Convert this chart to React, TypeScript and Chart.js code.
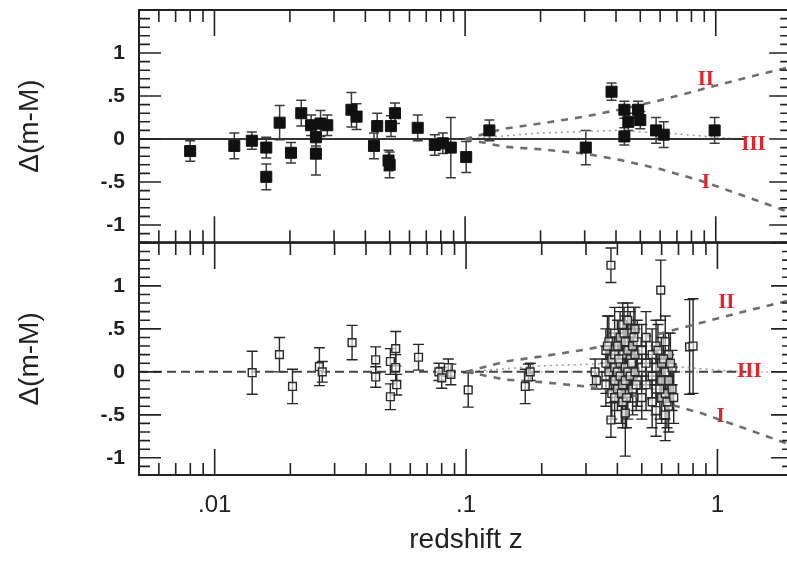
import React, { useEffect, useRef } from 'react';
import { Chart, registerables } from 'chart.js';
Chart.register(...registerables);

// ---- axis ranges / ticks ----
const xMin = 0.005;
const xMax = 2;
const yMin = -1.2;
const yMax = 1.5;
const xTickValues = [0.01, 0.1, 1];
const xTickLabels = ['.01', '.1', '1'];
const yTickValues = [-1, -0.5, 0, 0.5, 1];
const yTickLabels = ['-1', '-.5', '0', '.5', '1'];

// ---- top panel: filled squares ----
const topZ = [0.008, 0.012, 0.0141, 0.0161, 0.0161, 0.0182, 0.0202, 0.0222, 0.0243, 0.0254, 0.0254, 0.0265, 0.0282,
  0.0352, 0.0369, 0.0433, 0.0446, 0.0495, 0.05, 0.0506, 0.0525, 0.0647, 0.0757, 0.0815, 0.0877, 0.101, 0.125,
  0.303, 0.384, 0.432, 0.432, 0.448, 0.49, 0.5, 0.578, 0.62, 0.99];
const topDM = [-0.14, -0.08, -0.02, -0.1, -0.44, 0.19, -0.16, 0.3, 0.16, 0.02, -0.17, 0.18, 0.16,
  0.34, 0.26, -0.08, 0.15, -0.25, -0.3, 0.15, 0.3, 0.13, -0.07, -0.05, -0.1, -0.21, 0.1,
  -0.1, 0.55, 0.34, 0.03, 0.2, 0.34, 0.22, 0.1, 0.05, 0.1];
const topErr = [0.12, 0.15, 0.1, 0.12, 0.15, 0.2, 0.12, 0.15, 0.12, 0.1, 0.25, 0.15, 0.12,
  0.2, 0.15, 0.15, 0.15, 0.12, 0.15, 0.12, 0.12, 0.15, 0.12, 0.12, 0.35, 0.18, 0.12,
  0.2, 0.1, 0.1, 0.1, 0.1, 0.1, 0.1, 0.15, 0.15, 0.15];

// ---- bottom panel: open squares ----
const botZ = [0.0141, 0.0181, 0.0204, 0.0261, 0.0268, 0.0352, 0.0437, 0.0437, 0.05, 0.05, 0.0525, 0.0525, 0.053,
  0.0647, 0.078, 0.08, 0.085, 0.087, 0.102, 0.172, 0.177, 0.18, 0.326, 0.33,
  0.36, 0.36, 0.36, 0.36, 0.37, 0.37, 0.377, 0.38, 0.38, 0.377,
  0.39, 0.39, 0.39, 0.39, 0.39, 0.4, 0.4, 0.4, 0.41, 0.41, 0.41,
  0.42, 0.42, 0.42, 0.42, 0.43, 0.43, 0.43, 0.43, 0.44, 0.44, 0.44, 0.44,
  0.45, 0.45, 0.45, 0.46, 0.46, 0.46, 0.47, 0.47, 0.47, 0.48, 0.48,
  0.5, 0.5, 0.5, 0.52, 0.52, 0.52, 0.55, 0.55, 0.55, 0.57, 0.57, 0.57, 0.57, 0.595,
  0.6, 0.6, 0.6, 0.62, 0.62, 0.62, 0.62, 0.64, 0.64, 0.64, 0.66, 0.66, 0.775, 0.8,
  0.365, 0.405, 0.415, 0.425, 0.435, 0.455, 0.465, 0.475, 0.58, 0.59, 0.61, 0.63, 0.65, 0.67];
const botDM = [-0.01, 0.2, -0.17, 0.06, 0.0, 0.34, 0.14, -0.06, 0.12, -0.29, 0.27, 0.05, -0.15,
  0.17, 0.0, -0.07, 0.05, -0.03, -0.21, -0.17, -0.06, 0.0, 0.0, -0.1,
  0.25, 0.1, -0.05, -0.15, 0.35, 0.0, 1.24, 0.15, -0.25, -0.56,
  0.45, 0.2, 0.05, -0.1, -0.3, 0.3, 0.0, -0.2, 0.1, 0.4, -0.05,
  0.55, 0.2, -0.15, -0.35, 0.35, 0.05, -0.1, -0.48, 0.6, 0.25, 0.0, -0.25,
  0.45, 0.15, -0.05, 0.3, 0.1, -0.2, 0.5, 0.2, 0.0, 0.35, -0.1,
  0.25, 0.05, -0.3, 0.4, 0.1, -0.15, 0.2, -0.05, -0.35, 0.3, 0.05, -0.2, -0.45, 0.95,
  0.1, -0.1, -0.3, 0.35, 0.0, -0.25, -0.5, 0.2, -0.1, -0.4, 0.05, -0.2, 0.29, 0.3,
  0.3, 0.15, -0.25, 0.45, -0.3, 0.1, 0.4, -0.15, 0.25, -0.2, 0.15, -0.35, 0.1, -0.3];
const botErr = [0.25, 0.2, 0.2, 0.22, 0.12, 0.2, 0.15, 0.12, 0.15, 0.15, 0.2, 0.15, 0.12,
  0.15, 0.1, 0.12, 0.1, 0.12, 0.2, 0.2, 0.15, 0.1, 0.15, 0.1,
  0.25, 0.2, 0.2, 0.25, 0.3, 0.2, 0.2, 0.25, 0.3, 0.2,
  0.3, 0.25, 0.2, 0.25, 0.3, 0.3, 0.2, 0.25, 0.2, 0.3, 0.25,
  0.25, 0.3, 0.25, 0.3, 0.3, 0.2, 0.25, 0.5, 0.2, 0.3, 0.25, 0.3,
  0.25, 0.2, 0.3, 0.25, 0.2, 0.3, 0.25, 0.3, 0.2, 0.25, 0.3,
  0.3, 0.25, 0.25, 0.3, 0.25, 0.3, 0.3, 0.25, 0.3, 0.3, 0.25, 0.3, 0.3, 0.35,
  0.3, 0.25, 0.3, 0.3, 0.25, 0.3, 0.3, 0.25, 0.3, 0.3, 0.2, 0.25, 0.55, 0.55,
  0.35, 0.3, 0.35, 0.3, 0.35, 0.3, 0.35, 0.3, 0.3, 0.35, 0.3, 0.3, 0.35, 0.3];

// ---- model curves ----
const curveZ = [0.1, 0.143, 0.2, 0.3, 0.41, 0.6, 0.86, 1.35, 2];
const curveII = [0, 0.12, 0.18, 0.26, 0.34, 0.45, 0.57, 0.72, 0.84];
const curveI = [0, -0.09, -0.12, -0.17, -0.24, -0.35, -0.48, -0.68, -0.86];
const dottedZ = [0.1, 0.2, 0.4, 0.7, 1.0, 1.3];
const dottedDM = [0.0, 0.07, 0.1, 0.06, 0.02, 0.0];
const lineIIIZ = [0.005, 1.3];
const lineIIIDM = [0, 0];
const lineIIIBotZ = [0.1, 2];

// ---- curve labels ----
const labelText = ['II', 'III', 'I'];
const labelTopZ = [0.913, 1.415, 0.913];
const labelTopDM = [0.69, -0.06, -0.51];
const labelBotZ = [1.085, 1.34, 1.03];
const labelBotDM = [0.8, 0.0, -0.52];

const FONT = '"Liberation Sans", Arial, Helvetica, sans-serif';

const pts = (xs: number[], ys: number[]) => xs.map((x, i) => ({ x, y: ys[i] }));

function makeOverlay(panel: 'top' | 'bottom') {
  const zs = panel === 'top' ? topZ : botZ;
  const dms = panel === 'top' ? topDM : botDM;
  const errs = panel === 'top' ? topErr : botErr;
  const lz = panel === 'top' ? labelTopZ : labelBotZ;
  const ld = panel === 'top' ? labelTopDM : labelBotDM;
  return {
    id: 'overlay_' + panel,
    beforeDatasetsDraw(chart: any) {
      const { ctx, chartArea: a, scales } = chart;
      const x = scales.x, y = scales.y;
      ctx.save();
      ctx.beginPath();
      ctx.rect(a.left, a.top, a.right - a.left, a.bottom - a.top);
      ctx.clip();
      ctx.strokeStyle = panel === 'top' ? '#3a3a3a' : '#262626';
      ctx.lineWidth = panel === 'top' ? 1.5 : 1.4;
      const cap = panel === 'top' ? 5 : 5.5;
      for (let i = 0; i < zs.length; i++) {
        const px = x.getPixelForValue(zs[i]);
        const p1 = y.getPixelForValue(dms[i] + errs[i]);
        const p2 = y.getPixelForValue(dms[i] - errs[i]);
        ctx.beginPath();
        ctx.moveTo(px, p1); ctx.lineTo(px, p2);
        ctx.moveTo(px - cap, p1); ctx.lineTo(px + cap, p1);
        ctx.moveTo(px - cap, p2); ctx.lineTo(px + cap, p2);
        ctx.stroke();
      }
      ctx.restore();
    },
    afterDatasetsDraw(chart: any) {
      const { ctx, scales } = chart;
      const x = scales.x, y = scales.y;
      ctx.save();
      ctx.fillStyle = '#e3242b';
      ctx.font = 'bold 21px "Liberation Serif", "Times New Roman", serif';
      ctx.textAlign = 'center';
      ctx.textBaseline = 'middle';
      for (let i = 0; i < labelText.length; i++) {
        ctx.fillText(labelText[i], x.getPixelForValue(lz[i]), y.getPixelForValue(ld[i]));
      }
      ctx.restore();
    },
    afterDraw(chart: any) {
      const { ctx, chartArea: a, scales } = chart;
      const x = scales.x, y = scales.y;
      ctx.save();
      ctx.strokeStyle = '#222';
      ctx.lineWidth = 1.6;
      ctx.beginPath();
      for (const d of [0.001, 0.01, 0.1, 1]) {
        for (let m = 1; m <= 9; m++) {
          const v = m * d;
          if (v < xMin || v > xMax) continue;
          const px = x.getPixelForValue(v);
          const len = m === 1 ? 26 : 12;
          ctx.moveTo(px, a.top); ctx.lineTo(px, a.top + len);
          ctx.moveTo(px, a.bottom); ctx.lineTo(px, a.bottom - len);
        }
      }
      for (let k = -12; k <= 15; k++) {
        const py = y.getPixelForValue(k / 10);
        const len = k % 5 === 0 ? 22 : 11;
        ctx.moveTo(a.left, py); ctx.lineTo(a.left + len, py);
        ctx.moveTo(a.right, py); ctx.lineTo(a.right - len, py);
      }
      ctx.stroke();
      ctx.lineWidth = 2;
      ctx.strokeRect(a.left, a.top, a.right - a.left, a.bottom - a.top);
      ctx.restore();
    },
  };
}

function makeConfig(panel: 'top' | 'bottom'): any {
  const isTop = panel === 'top';
  const datasets: any[] = [];
  datasets.push({
    data: pts(lineIIIZ, lineIIIDM), showLine: true, pointRadius: 0,
    borderColor: isTop ? '#333' : '#444', borderWidth: isTop ? 2.2 : 2,
    borderDash: isTop ? [] : [9, 5], order: 5,
  });
  if (!isTop) {
    datasets.push({
      data: pts(lineIIIBotZ, lineIIIDM), showLine: true, pointRadius: 0,
      borderColor: '#bbb', borderWidth: 1.5, borderDash: [2, 3], order: 5,
    });
  }
  datasets.push({
    data: pts(dottedZ, dottedDM), showLine: true, pointRadius: 0,
    borderColor: '#999', borderWidth: 1.5, borderDash: [2, 4], order: 5,
  });
  datasets.push({
    data: pts(curveZ, curveII), showLine: true, pointRadius: 0,
    borderColor: '#6e6e6e', borderWidth: 2.6, borderDash: [7, 7], order: 4,
  });
  datasets.push({
    data: pts(curveZ, curveI), showLine: true, pointRadius: 0,
    borderColor: '#6e6e6e', borderWidth: 2.6, borderDash: [7, 7], order: 4,
  });
  if (isTop) {
    datasets.push({
      data: pts(topZ, topDM), showLine: false, pointStyle: 'rect', pointRadius: 7.8,
      backgroundColor: '#111', borderColor: '#111', borderWidth: 1, order: 1,
    });
  } else {
    datasets.push({
      data: pts(botZ, botDM), showLine: false, pointStyle: 'rect', pointRadius: 5.5,
      backgroundColor: 'rgba(255,255,255,0.6)', borderColor: '#2a2a2a', borderWidth: 1.4, order: 1,
    });
  }

  return {
    type: 'scatter',
    data: { datasets },
    options: {
      responsive: false,
      animation: false,
      devicePixelRatio: 1,
      events: [],
      layout: { padding: isTop ? { top: 10, right: 4, bottom: 2, left: 0 } : { top: 6, right: 4, bottom: 0, left: 0 } },
      plugins: { legend: { display: false }, tooltip: { enabled: false } },
      scales: {
        x: {
          type: 'logarithmic', min: xMin, max: xMax, display: !isTop,
          afterBuildTicks: (s: any) => { s.ticks = xTickValues.map((v) => ({ value: v, major: true })); },
          afterFit: (s: any) => {
            if (!isTop) s.height = 96;
            s.paddingLeft = 0; s.paddingRight = 0; s.paddingTop = 0; s.paddingBottom = 0;
          },
          grid: { display: false, drawTicks: false },
          border: { display: false },
          ticks: {
            padding: 16, autoSkip: false, maxRotation: 0, color: '#222',
            font: { family: FONT, size: 24 },
            callback: (v: any) => { const i = xTickValues.indexOf(Number(v)); return i >= 0 ? xTickLabels[i] : ''; },
          },
          title: {
            display: true, text: 'redshift z', color: '#222',
            font: { family: FONT, size: 28 }, padding: { top: 0, bottom: 14 },
          },
        },
        y: {
          type: 'linear', min: yMin, max: yMax,
          afterBuildTicks: (s: any) => { s.ticks = yTickValues.map((v) => ({ value: v })); },
          afterFit: (s: any) => {
            s.width = 139;
            s.paddingLeft = 0; s.paddingRight = 0; s.paddingTop = 0; s.paddingBottom = 0;
          },
          grid: { display: false, drawTicks: false },
          border: { display: false },
          ticks: {
            padding: 14, color: '#222',
            font: { family: FONT, size: 21, weight: 'bold' },
            callback: (v: any) => { const i = yTickValues.indexOf(Number(v)); return i >= 0 ? yTickLabels[i] : ''; },
          },
          title: {
            display: true, text: 'Δ(m-M)', color: '#222',
            font: { family: FONT, size: 28 }, padding: { top: 13, bottom: 0 },
          },
        },
      },
    },
    plugins: [makeOverlay(panel)],
  };
}

export default function App() {
  const topRef = useRef<HTMLCanvasElement | null>(null);
  const botRef = useRef<HTMLCanvasElement | null>(null);
  useEffect(() => {
    const c1 = new Chart(topRef.current as HTMLCanvasElement, makeConfig('top'));
    const c2 = new Chart(botRef.current as HTMLCanvasElement, makeConfig('bottom'));
    return () => { c1.destroy(); c2.destroy(); };
  }, []);
  return (
    <div style={{ position: 'fixed', left: 0, top: 0, width: 787, height: 571, overflow: 'hidden', background: '#fff' }}>
      <canvas ref={topRef} width={800} height={251} style={{ position: 'absolute', left: 0, top: 0, width: 800, height: 251 }} />
      <canvas ref={botRef} width={800} height={335} style={{ position: 'absolute', left: 0, top: 236, width: 800, height: 335 }} />
    </div>
  );
}
